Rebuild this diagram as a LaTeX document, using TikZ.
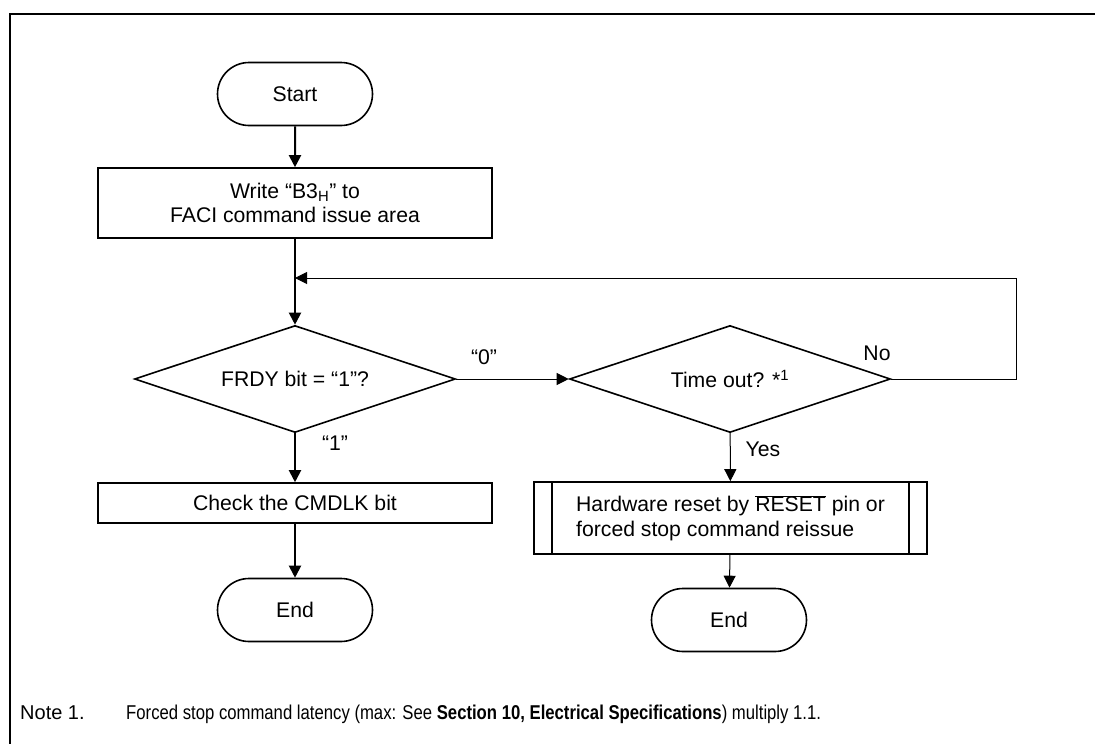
\documentclass[tikz,border=0pt]{standalone}
\usepackage{fontspec}
\setmainfont{Liberation Sans}
\usetikzlibrary{shapes.geometric,shapes.misc,arrows.meta}
\begin{document}
\begin{tikzpicture}[x=1pt,y=-1pt,
  every node/.style={font=\fontsize{21.2}{24.5}\selectfont},
  term/.style={draw, rounded rectangle, line width=1.6pt, minimum width=155pt, minimum height=63pt, inner sep=0pt},
  procbox/.style={draw, rectangle, line width=1.6pt, minimum width=394pt, inner sep=0pt, align=center},
  decide/.style={draw, diamond, shape aspect=3, line width=1.6pt, minimum width=321pt, minimum height=107pt, inner sep=0pt},
  thickflow/.style={line width=2pt, -{Triangle[length=12pt,width=12pt]}},
  thinflow/.style={line width=1pt, -{Triangle[length=12pt,width=12pt]}},
  lbl/.style={inner sep=0pt},
  notestyle/.style={anchor=base west, inner sep=0pt, font=\fontsize{20}{24}\selectfont},
]
\useasboundingbox (0,0) rectangle (1095,744);
\fill[white] (0,0) rectangle (1095,744);

% frame (top and left edges)
\draw[line width=2pt] (10,745) -- (10,14) -- (1096,14);

% left column
\node[term] (start) at (295,94) {Start};
\node[procbox, minimum height=70pt] (write) at (295,203) {Write “B3\textsubscript{H}” to\\FACI command issue area};
\coordinate (merge) at (295,278);
\node[decide] (frdy) at (295,379) {FRDY bit = “1”?};
\node[procbox, minimum height=40pt] (cmdlk) at (295,503) {Check the CMDLK bit};
\node[term] (end1) at (295,610) {End};

% right column
\node[decide] (tout) at (730,379) {Time out? *\textsuperscript{1}};
\node[procbox, minimum width=393pt, minimum height=72pt, align=left] (hwreset) at (730.5,518)
  {Hardware reset by $\overline{\mbox{RESET}\vphantom{I}}$ pin or\\forced stop command reissue};
\draw[line width=1.6pt] ([xshift=19pt]hwreset.north west) -- ([xshift=19pt]hwreset.south west);
\draw[line width=1.6pt] ([xshift=-19pt]hwreset.north east) -- ([xshift=-19pt]hwreset.south east);
\node[term] (end2) at (729,620) {End};
\coordinate (loopcorner) at (1016,278);

% connectors
\draw[thickflow] (start) -- (write);
\draw[thickflow] (write) -- (frdy);
\draw[thickflow] (frdy) -- (cmdlk);
\draw[thickflow] (cmdlk) -- (end1);
\draw[thinflow] (frdy.east) -- (tout.west);
\draw[thinflow] (tout) -- (hwreset);
\draw[thinflow] (hwreset) -- (end2);
\draw[thinflow] (tout.east) -| (loopcorner) -- (merge);

% branch labels
\node[lbl] (l0) at (484,357) {“0”};
\node[lbl] (l1) at (335,443) {“1”};
\node[lbl] (lno) at (877,353) {No};
\node[lbl] (lyes) at (763,449) {Yes};

% footnote
\node[notestyle] (notenum) at (20,719) {Note 1.};
\node[notestyle] (notetext) at (126,719)
  {\scalebox{0.835}[1]{Forced stop command latency (max: See \textbf{Section 10, Electrical Specifications}) multiply 1.1.}};
\end{tikzpicture}
\end{document}
